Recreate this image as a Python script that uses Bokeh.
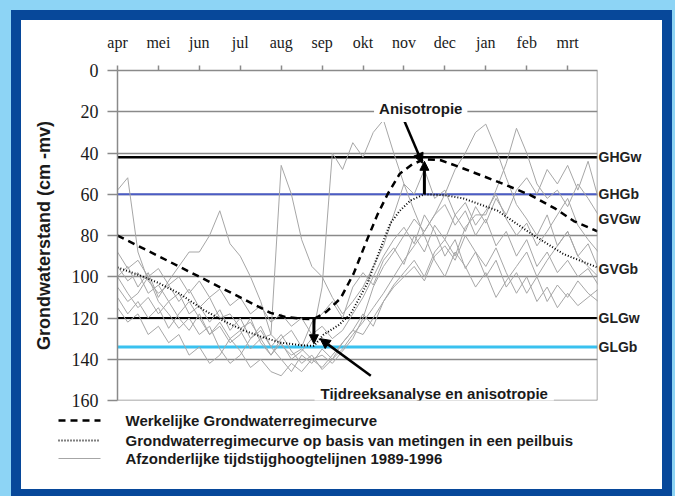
import numpy as np
from bokeh.plotting import figure
from bokeh.layouts import column
from bokeh.models import (Range1d, FixedTicker, Span, Label, Arrow, NormalHead, LinearAxis,
                          GlobalInlineStyleSheet)
from bokeh.core.properties import value
from bokeh.embed import file_html
from bokeh.resources import INLINE

# ---------------- data ----------------
months = ["apr", "mei", "jun", "jul", "aug", "sep", "okt", "nov", "dec", "jan", "feb", "mrt"]
month_pos = list(range(12))
y_ticks = [0, 20, 40, 60, 80, 100, 120, 140, 160]
grid_vals = [20, 40, 60, 80, 100, 120, 140]

# Werkelijke grondwaterregimecurve (dashed)
dashed_x = [0, 1, 2, 3, 3.74, 4.1, 4.5, 4.8, 5.1, 5.45, 5.77, 6.1, 6.35, 6.6, 6.9, 7.2,
            7.5, 7.9, 8.45, 9.3, 10.1, 10.7, 11.15, 11.73]
dashed_y = [80, 90, 100, 110, 117.5, 119.5, 120.3, 120.5, 117, 110.5, 98.5, 82, 70, 60, 50, 45.5,
            43, 43.5, 47.5, 54, 60.5, 67, 73, 78]

# Grondwaterregimecurve op basis van metingen in een peilbuis (dotted)
dotted_x = [0, 0.5, 1, 1.5, 2.1, 2.6, 3.08, 3.5, 4.0, 4.5, 4.8, 5.04, 5.4, 5.7, 6.11, 6.43,
            6.67, 6.9, 7.16, 7.5, 8.0, 8.45, 9.29, 10.1, 10.9, 11.73]
dotted_y = [95.5, 99, 103, 108, 116, 121.5, 126, 129, 132, 133.2, 133.5, 128, 123.5, 118, 103, 86,
            74, 68, 63, 60, 60.5, 62, 68, 79, 89, 95.5]

# Afzonderlijke tijdstijghoogtelijnen 1989-1996 (quarter-month readings)
series_t = np.arange(0, 12, 0.25)
s1989 = [58, 52, 88, 102, 108, 104, 112, 106, 115, 110, 120, 118, 125, 122, 130, 128,
         133, 138, 135, 140, 138, 142, 136, 130, 120, 105, 95, 88, 80, 72, 78, 70,
         65, 75, 68, 80, 72, 85, 78, 90, 82, 95, 88, 98, 92, 100, 96, 104]
s1990 = [100, 95, 105, 98, 110, 102, 95, 88, 88, 80, 68, 84, 90, 100, 112, 128,
         46, 60, 82, 95, 100, 110, 118, 112, 105, 95, 85, 70, 55, 60, 48, 62,
         58, 70, 64, 75, 68, 60, 72, 80, 74, 85, 78, 70, 62, 75, 82, 88]
s1991 = [110, 118, 112, 120, 115, 125, 118, 112, 120, 128, 122, 130, 126, 135, 130, 138,
         132, 140, 136, 130, 105, 40, 48, 35, 42, 30, 24, 40, 55, 68, 80, 92,
         100, 88, 95, 105, 98, 110, 102, 95, 88, 100, 92, 85, 78, 90, 84, 96]
s1992 = [95, 102, 98, 108, 104, 112, 108, 118, 114, 122, 116, 126, 120, 130, 124, 134,
         128, 136, 142, 138, 145, 140, 135, 128, 122, 115, 108, 100, 92, 85, 78, 70,
         60, 48, 40, 30, 26, 38, 52, 65, 72, 80, 70, 85, 78, 90, 95, 100]
s1993 = [105, 112, 108, 100, 112, 118, 125, 120, 128, 124, 135, 142, 138, 130, 126, 134,
         140, 146, 138, 142, 135, 140, 132, 126, 118, 124, 112, 104, 98, 92, 100, 88,
         82, 90, 76, 70, 70, 58, 45, 28, 40, 55, 62, 58, 66, 55, 62, 70]
s1994 = [88, 96, 92, 100, 96, 104, 100, 108, 102, 110, 106, 114, 110, 118, 114, 122,
         118, 124, 120, 128, 124, 130, 126, 118, 110, 100, 90, 82, 76, 84, 70, 78,
         90, 82, 96, 88, 100, 92, 105, 98, 108, 100, 112, 104, 110, 102, 108, 112]
s1995 = [115, 122, 118, 128, 124, 132, 128, 138, 134, 142, 138, 130, 136, 144, 140, 146,
         148, 142, 146, 140, 144, 138, 132, 126, 128, 120, 112, 105, 100, 95, 102, 90,
         85, 92, 80, 88, 95, 86, 98, 108, 100, 112, 105, 115, 108, 114, 110, 106]
s1996 = [100, 108, 115, 110, 118, 112, 120, 126, 118, 128, 124, 132, 128, 120, 132, 138,
         130, 126, 134, 122, 118, 112, 120, 105, 98, 104, 92, 86, 94, 80, 88, 75,
         82, 70, 78, 66, 74, 62, 70, 58, 52, 60, 48, 55, 46, 58, 44, 62]
years = [s1989, s1990, s1991, s1992, s1993, s1994, s1995, s1996]

level_names = ["GHGw", "GHGb", "GVGw", "GVGb", "GLGw", "GLGb"]
level_values = [42, 60, 72, 96, 120, 134]

legend_texts = ["Werkelijke Grondwaterregimecurve",
                "Grondwaterregimecurve op basis van metingen in een peilbuis",
                "Afzonderlijke tijdstijghoogtelijnen 1989-1996"]

SANS = "Arial"
SERIF = "Times"
GRAY = "#8a8a8a"
TXT = "#1a1a1a"

# ---------------- main figure ----------------
X_END = 11.73
p = figure(width=641, height=393, x_range=Range1d(0, X_END), y_range=Range1d(160, 0),
           x_axis_location="above", output_backend="svg", toolbar_location=None,
           min_border_left=96, min_border_right=65, min_border_top=50, min_border_bottom=13,
           background_fill_color="white", border_fill_color="white")
p.outline_line_color = None

p.xgrid.visible = False
p.ygrid.ticker = FixedTicker(ticks=grid_vals)
p.ygrid.grid_line_color = GRAY
p.ygrid.grid_line_width = 1.5

ya = p.yaxis[0]
ya.ticker = FixedTicker(ticks=y_ticks)
ya.major_tick_out = 10
ya.major_tick_in = 0
ya.minor_tick_line_color = None
ya.major_tick_line_color = GRAY
ya.major_tick_line_width = 1.5
ya.axis_line_color = GRAY
ya.axis_line_width = 1.5
ya.major_label_text_font = SERIF
ya.major_label_text_font_size = "18px"
ya.major_label_text_color = TXT
ya.major_label_standoff = 9
ya.axis_label = "Grondwaterstand (cm -mv)"
ya.axis_label_text_font = SANS
ya.axis_label_text_font_style = "bold"
ya.axis_label_text_font_size = "18px"
ya.axis_label_text_color = TXT
ya.axis_label_standoff = 15

xa = p.xaxis[0]
xa.ticker = FixedTicker(ticks=month_pos)
xa.major_label_overrides = {m: lab for m, lab in zip(month_pos, months)}
xa.major_tick_out = 5
xa.major_tick_in = 0
xa.minor_tick_line_color = None
xa.major_tick_line_color = GRAY
xa.major_tick_line_width = 1.5
xa.axis_line_color = GRAY
xa.axis_line_width = 1.5
xa.major_label_text_font = SERIF
xa.major_label_text_font_size = "16px"
xa.major_label_text_color = TXT
xa.major_label_standoff = 15

# right-hand level names as an axis
ra = LinearAxis(ticker=FixedTicker(ticks=level_values),
                major_label_overrides={v: n for v, n in zip(level_values, level_names)},
                axis_line_color=None, major_tick_line_color=None, minor_tick_line_color=None,
                major_tick_out=0, major_tick_in=0, major_label_standoff=1,
                major_label_text_font=SANS, major_label_text_font_style="bold",
                major_label_text_font_size="14px", major_label_text_color="#222222")
p.add_layout(ra, "right")

# frame right & bottom
p.add_layout(Span(location=160, dimension="width", line_color=GRAY, line_width=1.5))
p.add_layout(Span(location=X_END, dimension="height", line_color=GRAY, line_width=1.5))

# level lines
level_styles = {"GHGw": ("black", 2.5), "GHGb": ("#4b5cc4", 2), "GLGw": ("black", 2),
                "GLGb": ("#39c1ef", 3)}
for name, v in zip(level_names, level_values):
    if name in level_styles:
        c, w = level_styles[name]
        p.add_layout(Span(location=v, dimension="width", line_color=c, line_width=w,
                          level="underlay"))

# individual year lines
for s in years:
    p.line(series_t, s, line_color="#a6a6a6", line_width=1)

p.line(dotted_x, dotted_y, line_color="black", line_width=2, line_dash="1 2")
p.line(dashed_x, dashed_y, line_color="black", line_width=2.5, line_dash="7 5")

# anisotropy bars derived from curve extremes
i_hi_d = int(np.argmin(dashed_y)); i_hi_o = int(np.argmin(dotted_y))
i_lo_d = int(np.argmax(dashed_y)); i_lo_o = int(np.argmax(dotted_y))
p.add_layout(Arrow(x_start=dotted_x[i_hi_o], y_start=dotted_y[i_hi_o],
                   x_end=dotted_x[i_hi_o], y_end=dashed_y[i_hi_d] + 1,
                   line_width=3, line_color="black",
                   end=NormalHead(size=9, fill_color="black", line_color="black")))
p.add_layout(Arrow(x_start=dashed_x[i_lo_d], y_start=dashed_y[i_lo_d],
                   x_end=dashed_x[i_lo_d], y_end=dotted_y[i_lo_o] - 1,
                   line_width=3, line_color="black",
                   end=NormalHead(size=9, fill_color="black", line_color="black")))

# annotation arrows
p.add_layout(Arrow(x_start=7.0, y_start=24, x_end=7.45, y_end=45, line_width=2.5,
                   line_color="black", end=NormalHead(size=10, fill_color="black", line_color="black")))
p.add_layout(Arrow(x_start=6.19, y_start=148, x_end=4.95, y_end=130, line_width=2.5,
                   line_color="black", end=NormalHead(size=10, fill_color="black", line_color="black")))

p.add_layout(Label(x=7.41, y=18.4, text="Anisotropie", text_align="center", text_baseline="middle",
                   text_font=SANS, text_font_style="bold", text_font_size="15px",
                   text_color=TXT, background_fill_color="white", padding=5))
p.add_layout(Label(x=7.74, y=156.6, text="Tijdreeksanalyse en anisotropie", text_align="center",
                   text_baseline="middle", text_font=SANS, text_font_style="bold",
                   text_font_size="15px", text_color=TXT,
                   background_fill_color="white", padding=6))

# ---------------- legend strip ----------------
LW, LH = 641, 76
q = figure(width=LW, height=LH, x_range=Range1d(0, LW), y_range=Range1d(LH, 0),
           output_backend="svg", toolbar_location=None, min_border=0,
           background_fill_color="white", border_fill_color="white")
q.axis.visible = False
q.grid.visible = False
q.outline_line_color = None
q.frame_align = False
p.frame_align = False
leg_row_y = [7, 27, 45]
leg_sample_x = [37, 79]
leg_text_x = 104
leg_styles = [("black", 2.5, "7 5"), ("black", 2, "1 2"), ("#a6a6a6", 1.2, "solid")]
for yy, (c, w, d) in zip(leg_row_y, leg_styles):
    q.line(leg_sample_x, [yy, yy], line_color=c, line_width=w, line_dash=d)
q.text(x=[leg_text_x] * 3, y=leg_row_y, text=legend_texts, text_baseline="middle",
       text_font=value(SANS), text_font_style="bold", text_font_size="15px", text_color=TXT)

layout = column(p, q, spacing=0)
layout.margin = (20, 0, 0, 21)
layout.styles = {"outline": "10px solid #07489a", "background-color": "white"}
layout.stylesheets = [GlobalInlineStyleSheet(
    css="html, body { background-color: #8dd4f5; } body { margin: 0; padding: 0; }")]

open("out.html", "w").write(file_html(layout, INLINE))
